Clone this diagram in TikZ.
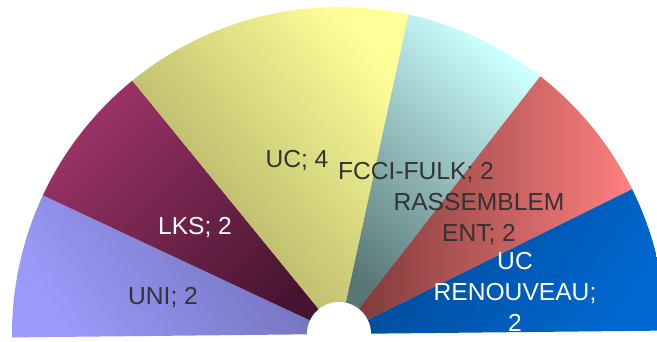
\documentclass[tikz,border=0pt]{standalone}
\usepackage{fontspec}
\setmainfont{Liberation Sans}
\usepackage{tikz}
\usetikzlibrary{calc}
\usepackage{xcolor}

\definecolor{uniLight}{HTML}{9A9AFA}
\definecolor{uniDark}{HTML}{6E6EB4}
\definecolor{lksLight}{HTML}{9A3366}
\definecolor{lksDark}{HTML}{461430}
\definecolor{ucLight}{HTML}{FFFF99}
\definecolor{ucDark}{HTML}{A4A45E}
\definecolor{fcciLight}{HTML}{CCFFFF}
\definecolor{fcciDark}{HTML}{587676}
\definecolor{rasLight}{HTML}{FF8080}
\definecolor{rasDark}{HTML}{783636}
\definecolor{ucrLight}{HTML}{0068D0}
\definecolor{ucrDark}{HTML}{004894}
\definecolor{darktext}{HTML}{333333}

\begin{document}
\begin{tikzpicture}[x=0.03cm, y=0.03cm,
    seatlabel/.style={font=\fontsize{21}{26.5}\selectfont, align=center, inner sep=0pt},
    darklabel/.style={seatlabel, text=darktext},
    lightlabel/.style={seatlabel, text=white}]
    \useasboundingbox (0,0) rectangle (657,341);
    \clip (0,0) rectangle (657,341);
    \coordinate (c) at (339,7);
    % sectors: start/end angle, dark colour, light colour, direction of the light side
    \foreach \a/\b/\dk/\lt/\dir in {180.6/154.9/uniDark/uniLight/215,
                                    154.9/129.2/lksDark/lksLight/135,
                                    129.2/77.7/ucDark/ucLight/40,
                                    77.7/52.0/fcciDark/fcciLight/50,
                                    52.0/26.3/rasDark/rasLight/0,
                                    26.3/0.6/ucrDark/ucrLight/-35}
    {
      \shade[top color=\lt, bottom color=\dk, shading angle=\dir-90]
        (c) -- ($(c)+(\a:327)$) arc[start angle=\a, end angle=\b, radius=327] -- cycle;
    }
    \fill[white] (c) circle[radius=32];
    % labels
    \node[darklabel]  (uni)  at (163,44)  {UNI; 2};
    \node[lightlabel] (lks)  at (195,114) {LKS; 2};
    \node[darklabel]  (uc)   at (297,181) {UC; 4};
    \node[darklabel]  (fcci) at (416,169) {FCCI-FULK; 2};
    \node[darklabel]  (ras)  at (479,122) {RASSEMBLEM\\ENT; 2};
    \node[lightlabel] (ucr)  at (515,49)  {UC\\RENOUVEAU;\\2};
\end{tikzpicture}
\end{document}
